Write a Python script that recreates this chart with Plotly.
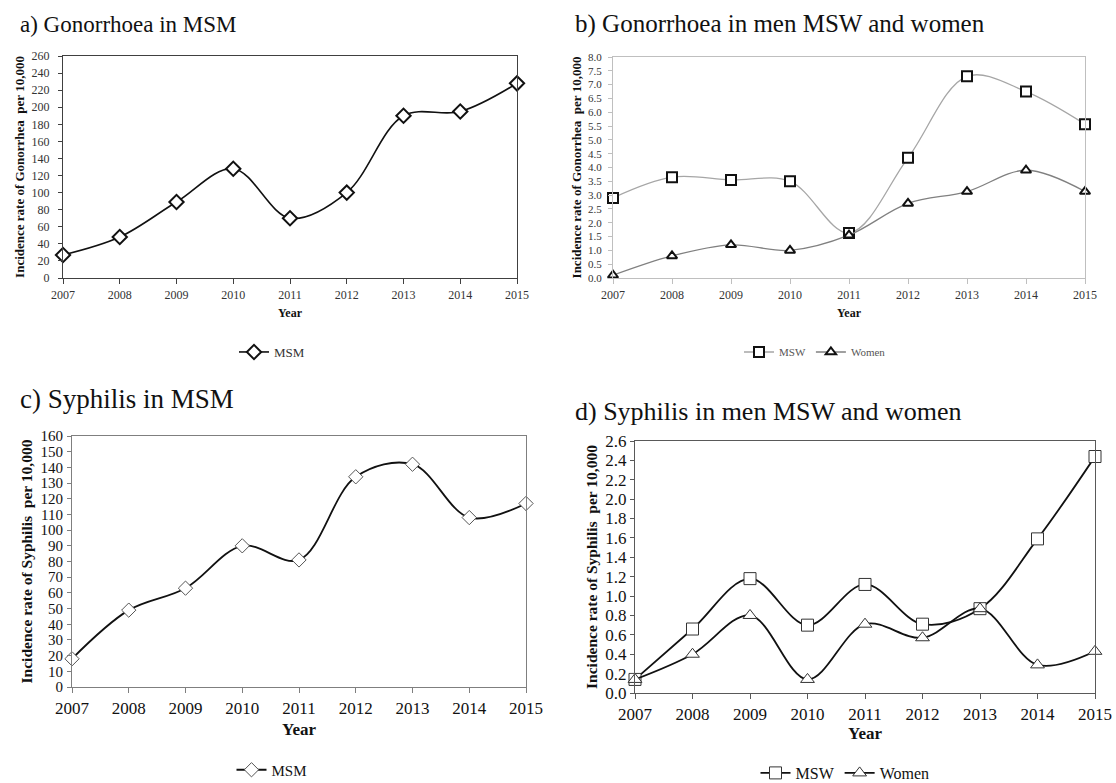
import plotly.graph_objects as go

years = [2007, 2008, 2009, 2010, 2011, 2012, 2013, 2014, 2015]

# a) Gonorrhoea in MSM
gon_msm = [27, 48, 89, 128, 70, 100, 190, 195, 228]
# b) Gonorrhoea in men MSW and women
gon_msw = [2.9, 3.65, 3.55, 3.5, 1.63, 4.35, 7.3, 6.75, 5.57]
gon_women = [0.1, 0.8, 1.2, 1.0, 1.55, 2.7, 3.13, 3.9, 3.13]
# c) Syphilis in MSM
syp_msm = [18, 49, 63, 90, 81, 134, 142, 108, 117]
# d) Syphilis in men MSW and women
syp_msw = [0.14, 0.66, 1.18, 0.70, 1.12, 0.71, 0.87, 1.59, 2.44]
syp_women = [0.14, 0.40, 0.80, 0.14, 0.71, 0.57, 0.87, 0.29, 0.43]

titles = ["a) Gonorrhoea in MSM", "b) Gonorrhoea in men MSW and women",
          "c) Syphilis in MSM", "d) Syphilis in men MSW and women"]

W, H = 1116, 783
SERIF = "Liberation Serif"

def px(x):
    return x / W

def py(y):
    return 1 - y / H

fig = go.Figure()

# Panel a
fig.add_trace(go.Scatter(
    x=years, y=gon_msm, name="MSM", mode="lines+markers",
    line=dict(shape="spline", smoothing=1.0, color="#111111", width=1.6),
    marker=dict(symbol="diamond", size=11, color="white", line=dict(color="#111111", width=2)),
    cliponaxis=False, xaxis="x", yaxis="y", legend="legend"))

# Panel b
fig.add_trace(go.Scatter(
    x=years, y=gon_msw, name="MSW", mode="lines+markers",
    line=dict(shape="spline", smoothing=1.0, color="#a6a6a6", width=1.3),
    marker=dict(symbol="square", size=10, color="white", line=dict(color="#111111", width=2)),
    cliponaxis=False, xaxis="x2", yaxis="y2", legend="legend2"))
fig.add_trace(go.Scatter(
    x=years, y=gon_women, name="Women", mode="lines+markers",
    line=dict(shape="spline", smoothing=1.0, color="#808080", width=1.3),
    marker=dict(symbol="triangle-up", size=9, color="white", line=dict(color="#111111", width=2)),
    cliponaxis=False, xaxis="x2", yaxis="y2", legend="legend2"))

# Panel c
fig.add_trace(go.Scatter(
    x=years, y=syp_msm, name="MSM", mode="lines+markers",
    line=dict(shape="spline", smoothing=1.0, color="#111111", width=1.8),
    marker=dict(symbol="diamond", size=11, color="white", line=dict(color="#555555", width=1)),
    cliponaxis=False, xaxis="x3", yaxis="y3", legend="legend3"))

# Panel d
fig.add_trace(go.Scatter(
    x=years, y=syp_msw, name="MSW", mode="lines+markers",
    line=dict(shape="spline", smoothing=1.0, color="#111111", width=1.8),
    marker=dict(symbol="square", size=12, color="white", line=dict(color="#333333", width=1)),
    cliponaxis=False, xaxis="x4", yaxis="y4", legend="legend4"))
fig.add_trace(go.Scatter(
    x=years, y=syp_women, name="Women", mode="lines+markers",
    line=dict(shape="spline", smoothing=1.0, color="#111111", width=1.8),
    marker=dict(symbol="triangle-up", size=12, color="white", line=dict(color="#333333", width=1)),
    cliponaxis=False, xaxis="x4", yaxis="y4", legend="legend4"))


def xaxis(dom, anchor, fs, col, tcol, tstand):
    return dict(domain=dom, anchor=anchor, range=[2007, 2015], dtick=1, tick0=2007,
                automargin=False,
                showgrid=False, zeroline=False, showline=True, linecolor=col, linewidth=1.2,
                mirror=True, ticks="outside", ticklen=5, tickcolor=col,
                tickfont=dict(family=SERIF, size=fs, color=tcol),
                title=dict(text="<b>Year</b>", font=dict(family=SERIF, size=fs, color="#111"),
                           standoff=tstand))


def yaxis(dom, anchor, rng, dtick, fmt, fs, col, tcol, title, tfs, lstand):
    return dict(domain=dom, anchor=anchor, range=rng, dtick=dtick, tickformat=fmt,
                automargin=False,
                showgrid=False, zeroline=False, showline=True, linecolor=col, linewidth=1.2,
                mirror=True, ticks="outside", ticklen=4, tickcolor=col,
                ticklabelstandoff=lstand,
                tickfont=dict(family=SERIF, size=fs, color=tcol),
                title=dict(text="<b>" + title + "</b>", font=dict(family=SERIF, size=tfs, color="#111"),
                           standoff=3))


fig.update_layout(
    width=W, height=H, margin=dict(l=0, r=0, t=0, b=0, autoexpand=False),
    paper_bgcolor="white", plot_bgcolor="white", showlegend=True,
    font=dict(family=SERIF),
    xaxis=xaxis([px(63), px(517)], "y", 12, "#404040", "#333", 8),
    yaxis=yaxis([py(278), py(56)], "x", [0, 260], 20, "d", 12, "#404040", "#333",
                "Incidence rate of Gonorrhea  per 10,000", 13, 6),
    xaxis2=xaxis([px(613), px(1085)], "y2", 12, "#bfbfbf", "#333", 8),
    yaxis2=yaxis([py(278), py(57)], "x2", [0, 8], 0.5, ".1f", 11, "#bfbfbf", "#333",
                 "Incidence rate of Gonorrhea  per 10,000", 13, 4),
    xaxis3=xaxis([px(72), px(526)], "y3", 17, "#7f7f7f", "#111", 6),
    yaxis3=yaxis([py(687), py(436)], "x3", [0, 160], 10, "d", 15, "#7f7f7f", "#111",
                 "Incidence rate of Syphilis  per 10,000", 15.5, 1),
    xaxis4=xaxis([px(635), px(1095)], "y4", 17, "#595959", "#111", 4),
    yaxis4=yaxis([py(693), py(441)], "x4", [0, 2.6], 0.2, ".1f", 17, "#595959", "#111",
                 "Incidence rate of Syphilis  per 10,000", 15.5, 0),
    legend=dict(x=px(272), y=py(352), xanchor="center", yanchor="middle", orientation="h",
                font=dict(family=SERIF, size=13, color="#333"), bgcolor="rgba(0,0,0,0)"),
    legend2=dict(x=px(815), y=py(352), xanchor="center", yanchor="middle", orientation="h",
                 font=dict(family=SERIF, size=11, color="#555"), bgcolor="rgba(0,0,0,0)"),
    legend3=dict(x=px(272), y=py(770), xanchor="center", yanchor="middle", orientation="h",
                 font=dict(family=SERIF, size=15, color="#111"), bgcolor="rgba(0,0,0,0)"),
    legend4=dict(x=px(845), y=py(773), xanchor="center", yanchor="middle", orientation="h",
                 font=dict(family=SERIF, size=16, color="#111"), bgcolor="rgba(0,0,0,0)"),
)

title_pos = [(18, 24, 23), (573, 24, 25), (18, 399, 27), (573, 411, 26)]
for t, (x, y, fs) in zip(titles, title_pos):
    fig.add_annotation(text=t, x=px(x), y=py(y), xref="paper", yref="paper",
                       xanchor="left", yanchor="middle", showarrow=False,
                       font=dict(family=SERIF, size=fs, color="#111"))

fig.write_html("out.html", config={"displayModeBar": False},
               post_script="document.body.style.margin='0';document.body.style.overflow='hidden';")
